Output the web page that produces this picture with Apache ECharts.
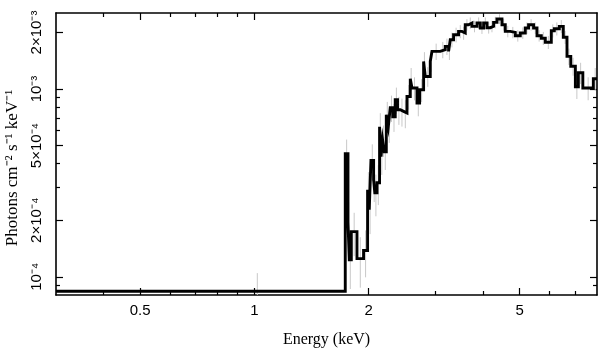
<!DOCTYPE html>
<html><head><meta charset="utf-8">
<script src="https://cdn.jsdelivr.net/npm/echarts@6/dist/echarts.min.js"></script>
<style>html,body{margin:0;padding:0;background:#fff}#c{width:609px;height:359px}</style>
</head><body><div id="c"></div>
<script>
// ---- data ----
const binEdgesKeV = [0.3, 1.736, 1.765, 1.779, 1.801, 1.864, 1.940, 1.988, 2.008, 2.029, 2.062, 2.077, 2.105, 2.138, 2.157, 2.177, 2.200, 2.227, 2.254, 2.281, 2.316, 2.351, 2.384, 2.424, 2.474, 2.525, 2.576, 2.603, 2.683, 2.726, 2.793, 2.821, 2.908, 2.938, 3.090, 3.185, 3.250, 3.283, 3.350, 3.453, 3.525, 3.596, 3.669, 3.746, 3.862, 3.940, 4.020, 4.104, 4.187, 4.271, 4.360, 4.494, 4.585, 4.726, 4.872, 5.022, 5.176, 5.281, 5.444, 5.558, 5.705, 5.845, 6.062, 6.174, 6.364, 6.520, 6.668, 6.823, 7.016, 7.144, 7.341, 7.824, 8.0];
const fluxValues = [8.37e-5, 4.52e-4, 1.95e-4, 1.23e-4, 1.74e-4, 1.25e-4, 1.38e-4, 2.91e-4, 2.28e-4, 4.16e-4, 3.29e-4, 2.80e-4, 3.17e-4, 6.30e-4, 4.36e-4, 5.37e-4, 4.63e-4, 7.30e-4, 6.30e-4, 7.95e-4, 7.12e-4, 8.77e-4, 7.76e-4, 7.60e-4, 7.45e-4, 9.13e-4, 1.135e-3, 1.012e-3, 8.42e-4, 9.91e-4, 1.403e-3, 1.167e-3, 1.403e-3, 1.586e-3, 1.620e-3, 1.686e-3, 1.586e-3, 1.831e-3, 1.946e-3, 2.027e-3, 1.988e-3, 2.201e-3, 2.247e-3, 2.156e-3, 2.247e-3, 2.113e-3, 2.247e-3, 2.121e-3, 2.156e-3, 2.264e-3, 2.360e-3, 2.201e-3, 2.027e-3, 2.002e-3, 1.923e-3, 1.988e-3, 2.113e-3, 2.201e-3, 2.113e-3, 1.923e-3, 1.865e-3, 1.775e-3, 2.044e-3, 2.095e-3, 2.156e-3, 1.888e-3, 1.492e-3, 1.322e-3, 1.029e-3, 1.221e-3, 1.013e-3, 1.135e-3];
const fluxRelErr = [0.25, 0.19, 0.28, 0.30, 0.26, 0.30, 0.28, 0.24, 0.26, 0.22, 0.24, 0.25, 0.24, 0.18, 0.20, 0.19, 0.20, 0.17, 0.18, 0.16, 0.17, 0.16, 0.17, 0.17, 0.17, 0.15, 0.14, 0.14, 0.15, 0.14, 0.12, 0.12, 0.12, 0.10, 0.10, 0.10, 0.10, 0.09, 0.09, 0.08, 0.08, 0.07, 0.07, 0.07, 0.07, 0.07, 0.07, 0.07, 0.07, 0.07, 0.06, 0.07, 0.07, 0.07, 0.07, 0.07, 0.07, 0.07, 0.07, 0.07, 0.08, 0.08, 0.08, 0.08, 0.08, 0.08, 0.10, 0.11, 0.14, 0.13, 0.14, 0.14];
const xMajorTicks = [0.5, 1, 2, 5];
const xMajorLabels = ['0.5', '1', '2', '5'];
const xMinorTicks = [0.4, 0.6, 0.7, 0.8, 0.9, 3, 4, 6, 7];
const yMajorTicks = [1e-4, 2e-4, 5e-4, 1e-3, 2e-3];
const yMajorLabels = ['10⁻⁴', '2×10⁻⁴', '5×10⁻⁴', '10⁻³', '2×10⁻³'];
const yMinorTicks = [9e-5, 3e-4, 4e-4, 6e-4, 7e-4, 8e-4, 9e-4];
const xRange = [0.3, 8];
const yRange = [8e-5, 2.54e-3];
const xTitle = 'Energy (keV)';
const yTitle = 'Photons cm⁻² s⁻¹ keV⁻¹';

// ---- build ----
const L = Math.log10;
const stepData = [];
for (let i = 0; i < fluxValues.length; i++) {
  stepData.push([L(binEdgesKeV[i]), L(fluxValues[i])]);
  stepData.push([L(binEdgesKeV[i + 1]), L(fluxValues[i])]);
}
const errData = fluxValues.map((v, i) => [(binEdgesKeV[i] + binEdgesKeV[i + 1]) / 2, v * (1 - fluxRelErr[i]), v * (1 + fluxRelErr[i])]);

const lineStyle = { color: '#000', width: 1.6 };
function fmt(ticks, labels) {
  return function (val) {
    const i = ticks.findIndex(t => Math.abs(L(t) - val) < 1e-6);
    return i >= 0 ? labels[i] : '';
  };
}
function mkAxis(kind, pos, ticks, len, showLine, labels) {
  const ax = {
    type: 'value', position: pos,
    min: L(kind === 'x' ? xRange[0] : yRange[0]),
    max: L(kind === 'x' ? xRange[1] : yRange[1]),
    axisLine: { show: showLine, onZero: false, lineStyle: lineStyle },
    axisTick: { show: true, inside: true, length: len, customValues: ticks.map(L), lineStyle: { color: '#000', width: 1.2 } },
    splitLine: { show: false },
    axisLabel: { show: false }
  };
  if (labels) {
    ax.axisLabel = {
      show: true, customValues: ticks.map(L), formatter: fmt(ticks, labels),
      color: '#000', fontFamily: 'Liberation Sans', fontSize: 15,
      margin: kind === 'x' ? 8 : 12, rotate: kind === 'y' ? 90 : 0
    };
  }
  return ax;
}

const xAxes = [
  Object.assign(mkAxis('x', 'bottom', xMajorTicks, 7, true, xMajorLabels), {
    name: xTitle, nameLocation: 'middle', nameGap: 37,
    nameTextStyle: { fontFamily: 'Liberation Serif', fontSize: 16, color: '#000' }
  }),
  mkAxis('x', 'bottom', xMinorTicks, 4, false),
  mkAxis('x', 'top', xMajorTicks, 7, true),
  mkAxis('x', 'top', xMinorTicks, 4, false)
];
const yAxes = [
  Object.assign(mkAxis('y', 'left', yMajorTicks, 7, true, yMajorLabels), {
    name: yTitle, nameLocation: 'middle', nameGap: 27,
    nameTextStyle: { fontFamily: 'Liberation Serif', fontSize: 17, color: '#000', padding: [0, 28, 0, 0] }
  }),
  mkAxis('y', 'left', yMinorTicks, 4, false),
  mkAxis('y', 'right', yMajorTicks, 7, true),
  mkAxis('y', 'right', yMinorTicks, 4, false)
];

const chart = echarts.init(document.getElementById('c'), null, { renderer: 'canvas' });
chart.setOption({
  backgroundColor: '#fff',
  animation: false,
  grid: { left: 56, right: 12, top: 13, bottom: 64, containLabel: false, outerBoundsMode: 'none' },
  xAxis: xAxes,
  yAxis: yAxes,
  series: [
    {
      type: 'custom', xAxisIndex: 0, yAxisIndex: 0, clip: true, z: 1,
      data: errData,
      renderItem: function (params, api) {
        const p1 = api.coord([L(api.value(0)), L(api.value(1))]);
        const p2 = api.coord([L(api.value(0)), L(api.value(2))]);
        return { type: 'line', shape: { x1: p1[0], y1: p1[1], x2: p2[0], y2: p2[1] }, style: { stroke: '#c8c8c8', lineWidth: 1 } };
      }
    },
    {
      type: 'line', xAxisIndex: 0, yAxisIndex: 0, data: stepData, showSymbol: false, clip: true, z: 3,
      lineStyle: { color: '#000', width: 2.9, join: 'miter' }
    }
  ]
});
</script></body></html>
